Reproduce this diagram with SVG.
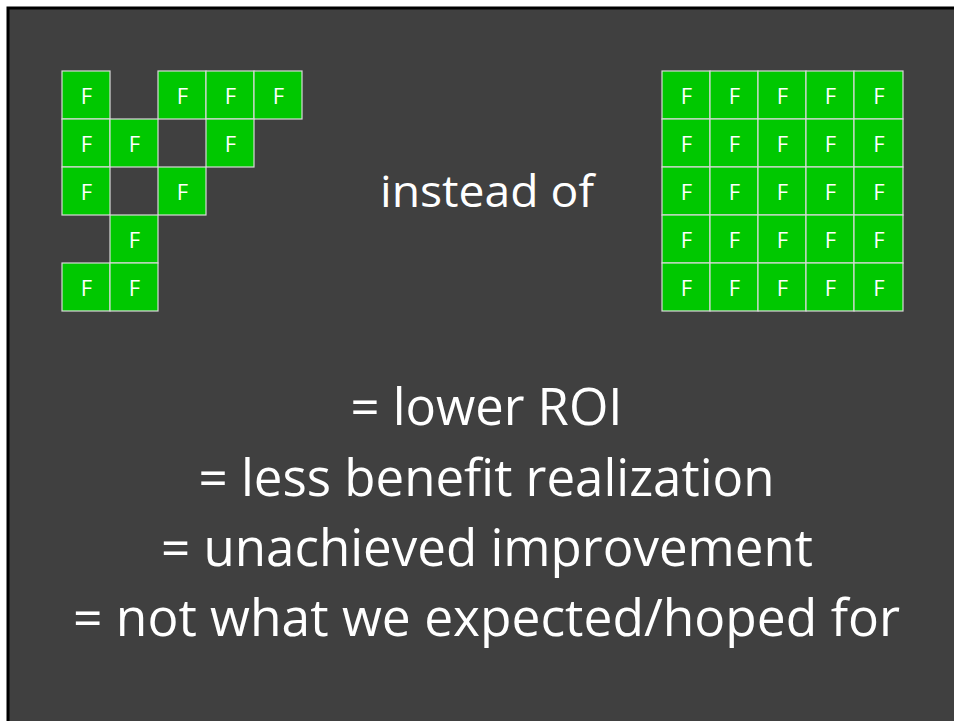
<svg xmlns="http://www.w3.org/2000/svg" width="954" height="721" viewBox="0 0 954 721">
<style>
.cell{fill:#00c800;stroke:#d9d9d9;stroke-width:1.2}
.f{font-family:"Open Sans","Liberation Sans",sans-serif;font-size:22px;fill:#ffffff;text-anchor:middle}
.big{font-family:"Open Sans","Liberation Sans",sans-serif;font-size:51px;fill:#ffffff;text-anchor:middle}
.mid{font-family:"Open Sans","Liberation Sans",sans-serif;font-size:44px;fill:#ffffff;text-anchor:middle}
</style>
<rect x="0" y="0" width="954" height="721" fill="#ffffff"/>
<rect id="slide" x="8" y="8" width="1000" height="800" fill="#404040" stroke="#000000" stroke-width="3"/>

<g id="left-grid">
  <g id="L-r0c0"><rect class="cell" x="62" y="71" width="48" height="48"/><text class="f" x="86.5" y="103.5">F</text></g>
  <g id="L-r0c2"><rect class="cell" x="158" y="71" width="48" height="48"/><text class="f" x="182.5" y="103.5">F</text></g>
  <g id="L-r0c3"><rect class="cell" x="206" y="71" width="48" height="48"/><text class="f" x="230.5" y="103.5">F</text></g>
  <g id="L-r0c4"><rect class="cell" x="254" y="71" width="48" height="48"/><text class="f" x="278.5" y="103.5">F</text></g>
  <g id="L-r1c0"><rect class="cell" x="62" y="119" width="48" height="48"/><text class="f" x="86.5" y="151.5">F</text></g>
  <g id="L-r1c1"><rect class="cell" x="110" y="119" width="48" height="48"/><text class="f" x="134.5" y="151.5">F</text></g>
  <g id="L-r1c3"><rect class="cell" x="206" y="119" width="48" height="48"/><text class="f" x="230.5" y="151.5">F</text></g>
  <g id="L-r2c0"><rect class="cell" x="62" y="167" width="48" height="48"/><text class="f" x="86.5" y="199.5">F</text></g>
  <g id="L-r2c2"><rect class="cell" x="158" y="167" width="48" height="48"/><text class="f" x="182.5" y="199.5">F</text></g>
  <g id="L-r3c1"><rect class="cell" x="110" y="215" width="48" height="48"/><text class="f" x="134.5" y="247.5">F</text></g>
  <g id="L-r4c0"><rect class="cell" x="62" y="263" width="48" height="48"/><text class="f" x="86.5" y="295.5">F</text></g>
  <g id="L-r4c1"><rect class="cell" x="110" y="263" width="48" height="48"/><text class="f" x="134.5" y="295.5">F</text></g>
</g>

<g id="right-grid">
  <g id="R-r0c0"><rect class="cell" x="662" y="71" width="48" height="48"/><text class="f" x="686.5" y="103.5">F</text></g>
  <g id="R-r0c1"><rect class="cell" x="710" y="71" width="48" height="48"/><text class="f" x="734.5" y="103.5">F</text></g>
  <g id="R-r0c2"><rect class="cell" x="758" y="71" width="48" height="48"/><text class="f" x="782.5" y="103.5">F</text></g>
  <g id="R-r0c3"><rect class="cell" x="806" y="71" width="48" height="48"/><text class="f" x="830.5" y="103.5">F</text></g>
  <g id="R-r0c4"><rect class="cell" x="854" y="71" width="49" height="48"/><text class="f" x="879" y="103.5">F</text></g>
  <g id="R-r1c0"><rect class="cell" x="662" y="119" width="48" height="48"/><text class="f" x="686.5" y="151.5">F</text></g>
  <g id="R-r1c1"><rect class="cell" x="710" y="119" width="48" height="48"/><text class="f" x="734.5" y="151.5">F</text></g>
  <g id="R-r1c2"><rect class="cell" x="758" y="119" width="48" height="48"/><text class="f" x="782.5" y="151.5">F</text></g>
  <g id="R-r1c3"><rect class="cell" x="806" y="119" width="48" height="48"/><text class="f" x="830.5" y="151.5">F</text></g>
  <g id="R-r1c4"><rect class="cell" x="854" y="119" width="49" height="48"/><text class="f" x="879" y="151.5">F</text></g>
  <g id="R-r2c0"><rect class="cell" x="662" y="167" width="48" height="48"/><text class="f" x="686.5" y="199.5">F</text></g>
  <g id="R-r2c1"><rect class="cell" x="710" y="167" width="48" height="48"/><text class="f" x="734.5" y="199.5">F</text></g>
  <g id="R-r2c2"><rect class="cell" x="758" y="167" width="48" height="48"/><text class="f" x="782.5" y="199.5">F</text></g>
  <g id="R-r2c3"><rect class="cell" x="806" y="167" width="48" height="48"/><text class="f" x="830.5" y="199.5">F</text></g>
  <g id="R-r2c4"><rect class="cell" x="854" y="167" width="49" height="48"/><text class="f" x="879" y="199.5">F</text></g>
  <g id="R-r3c0"><rect class="cell" x="662" y="215" width="48" height="48"/><text class="f" x="686.5" y="247.5">F</text></g>
  <g id="R-r3c1"><rect class="cell" x="710" y="215" width="48" height="48"/><text class="f" x="734.5" y="247.5">F</text></g>
  <g id="R-r3c2"><rect class="cell" x="758" y="215" width="48" height="48"/><text class="f" x="782.5" y="247.5">F</text></g>
  <g id="R-r3c3"><rect class="cell" x="806" y="215" width="48" height="48"/><text class="f" x="830.5" y="247.5">F</text></g>
  <g id="R-r3c4"><rect class="cell" x="854" y="215" width="49" height="48"/><text class="f" x="879" y="247.5">F</text></g>
  <g id="R-r4c0"><rect class="cell" x="662" y="263" width="48" height="48"/><text class="f" x="686.5" y="295.5">F</text></g>
  <g id="R-r4c1"><rect class="cell" x="710" y="263" width="48" height="48"/><text class="f" x="734.5" y="295.5">F</text></g>
  <g id="R-r4c2"><rect class="cell" x="758" y="263" width="48" height="48"/><text class="f" x="782.5" y="295.5">F</text></g>
  <g id="R-r4c3"><rect class="cell" x="806" y="263" width="48" height="48"/><text class="f" x="830.5" y="295.5">F</text></g>
  <g id="R-r4c4"><rect class="cell" x="854" y="263" width="49" height="48"/><text class="f" x="879" y="295.5">F</text></g>
</g>

<g id="instead-of"><text class="mid" x="487" y="207" textLength="214" lengthAdjust="spacingAndGlyphs">instead of</text></g>

<g id="conclusions">
  <text class="big" x="486.5" y="425" textLength="272" lengthAdjust="spacingAndGlyphs">= lower ROI</text>
  <text class="big" x="486.5" y="496" textLength="576" lengthAdjust="spacingAndGlyphs">= less benefit realization</text>
  <text class="big" x="487" y="566" textLength="652" lengthAdjust="spacingAndGlyphs">= unachieved improvement</text>
  <text class="big" x="486.5" y="636" textLength="827" lengthAdjust="spacingAndGlyphs">= not what we expected/hoped for</text>
</g>
<g id="connectors"/>
</svg>
